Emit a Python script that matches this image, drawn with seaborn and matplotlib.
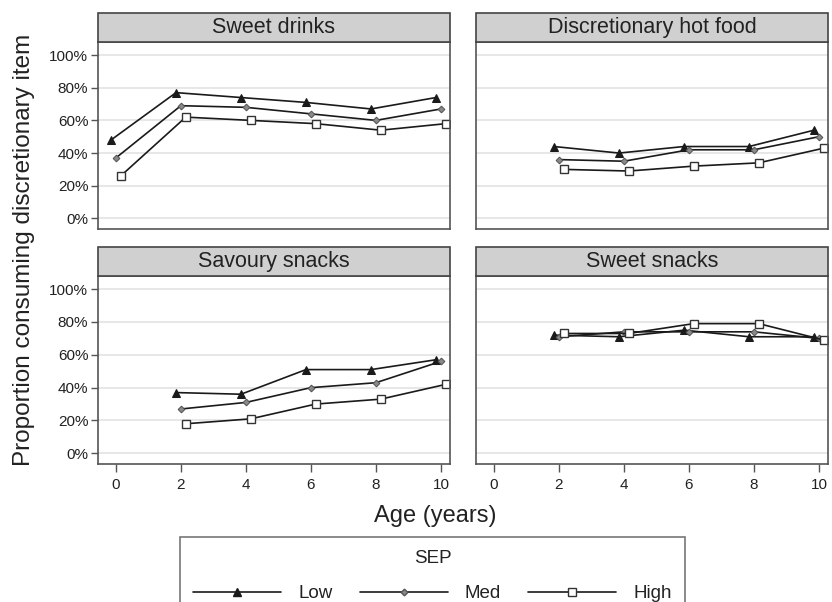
import matplotlib
matplotlib.use("Agg")
import matplotlib.pyplot as plt
from matplotlib.lines import Line2D
from matplotlib.patches import Rectangle
import seaborn as sns
import pandas as pd

# ---- data (percent consuming) ----
panels = ["Sweet drinks", "Discretionary hot food", "Savoury snacks", "Sweet snacks"]
sep_levels = ["Low", "Med", "High"]

ages_sd = [0, 2, 4, 6, 8, 10]
sd_low = [48, 77, 74, 71, 67, 74]
sd_med = [37, 69, 68, 64, 60, 67]
sd_high = [26, 62, 60, 58, 54, 58]

ages_other = [2, 4, 6, 8, 10]
hf_low = [44, 40, 44, 44, 54]
hf_med = [36, 35, 42, 42, 50]
hf_high = [30, 29, 32, 34, 43]

ss_low = [37, 36, 51, 51, 57]
ss_med = [27, 31, 40, 43, 56]
ss_high = [18, 21, 30, 33, 42]

sw_low = [72, 71, 75, 71, 71]
sw_med = [71, 74, 74, 74, 70]
sw_high = [73, 73, 79, 79, 69]

x_ticks = [0, 2, 4, 6, 8, 10]
y_ticks = [0, 20, 40, 60, 80, 100]

rows = []
series = {
    "Sweet drinks": (ages_sd, [sd_low, sd_med, sd_high]),
    "Discretionary hot food": (ages_other, [hf_low, hf_med, hf_high]),
    "Savoury snacks": (ages_other, [ss_low, ss_med, ss_high]),
    "Sweet snacks": (ages_other, [sw_low, sw_med, sw_high]),
}
for food, (ages, vals) in series.items():
    for lvl, v in zip(sep_levels, vals):
        for a, y in zip(ages, v):
            rows.append({"food": food, "SEP": lvl, "age": a, "value": y})
df = pd.DataFrame(rows)

# ---- style ----
sns.set_theme(style="white")
plt.rcParams["font.family"] = ["Liberation Sans", "DejaVu Sans"]
txt = "#222222"
line_c = "#1a1a1a"
dodge = {"Low": -0.15, "Med": 0.0, "High": 0.15}
styles = {
    "Low": dict(marker="^", markersize=5.5, markerfacecolor=line_c, markeredgecolor=line_c),
    "Med": dict(marker="D", markersize=3.4, markerfacecolor="#8a8a8a", markeredgecolor="#555555"),
    "High": dict(marker="s", markersize=5.5, markerfacecolor="white", markeredgecolor="#333333", markeredgewidth=1.0),
}
df["xpos"] = df["age"] + df["SEP"].map(dodge)

W, H = 832, 602
fig = plt.figure(figsize=(W / 100, H / 100), dpi=100)

def rect(x0, y0, x1, y1):
    return [x0 / W, 1 - y1 / H, (x1 - x0) / W, (y1 - y0) / H]

boxes = [rect(98, 42, 450, 229), rect(476, 42, 828, 229),
         rect(98, 276, 450, 464), rect(476, 276, 828, 464)]

for i, (food, box) in enumerate(zip(panels, boxes)):
    ax = fig.add_axes(box)
    sub = df[df["food"] == food]
    for lvl in sep_levels:
        g = sub[sub["SEP"] == lvl]
        sns.lineplot(data=g, x="xpos", y="value", ax=ax, color=line_c, lw=1.2,
                     legend=False, **styles[lvl])
    ax.set_xlim(-0.55, 10.28)
    ax.set_ylim(-6.5, 108)
    ax.set_xticks(x_ticks)
    ax.set_yticks(y_ticks)
    if i >= 2:
        ax.set_xticklabels([str(t) for t in x_ticks], fontsize=11, color=txt)
        ax.tick_params(axis="x", bottom=True, length=6, width=1, color="#555555", pad=4)
    else:
        ax.set_xticklabels([])
        ax.tick_params(axis="x", bottom=False)
    if i % 2 == 0:
        ax.set_yticklabels([f"{t}%" for t in y_ticks], fontsize=11, color=txt)
        ax.tick_params(axis="y", left=True, length=5, width=1, color="#555555", pad=2)
    else:
        ax.set_yticklabels([])
        ax.tick_params(axis="y", left=False)
    ax.set_xlabel("")
    ax.set_ylabel("")
    ax.grid(axis="y", color="#e3e3e3", lw=1.2)
    ax.set_axisbelow(True)
    for s in ax.spines.values():
        s.set_color("#555555")
        s.set_linewidth(1.2)
    # strip header
    strip_h = 29 / (box[3] * H)
    ax.add_patch(Rectangle((0, 1), 1, strip_h, transform=ax.transAxes, clip_on=False,
                           facecolor="#d0d0d0", edgecolor="#444444", lw=1.2, zorder=5))
    ax.text(0.5, 1 + strip_h / 2, food, transform=ax.transAxes, ha="center", va="center",
            fontsize=15.5, color=txt, zorder=6)

fig.text(24 / W, 1 - 250 / H, "Proportion consuming discretionary item", rotation=90,
         ha="center", va="center", fontsize=17.5, color=txt)
fig.text(435 / W, 1 - 516 / H, "Age (years)", ha="center", va="center", fontsize=17, color=txt)

handles = [Line2D([], [], color=line_c, lw=1.2, **styles[l]) for l in sep_levels]
leg = fig.legend(handles, sep_levels, title="SEP", ncol=3, loc="upper center",
                 bbox_to_anchor=(432.5 / W, 1 - 537 / H), frameon=True, fontsize=13.5,
                 title_fontsize=13.5, handlelength=4.7, handletextpad=0.9, columnspacing=1.45,
                 borderpad=0.7, borderaxespad=0, labelspacing=0.95,
                 fancybox=False, edgecolor="#555555")
leg.get_frame().set_linewidth(1.2)
for t in leg.get_texts():
    t.set_color(txt)
leg.get_title().set_color(txt)

fig.savefig("out.png", dpi=100)
